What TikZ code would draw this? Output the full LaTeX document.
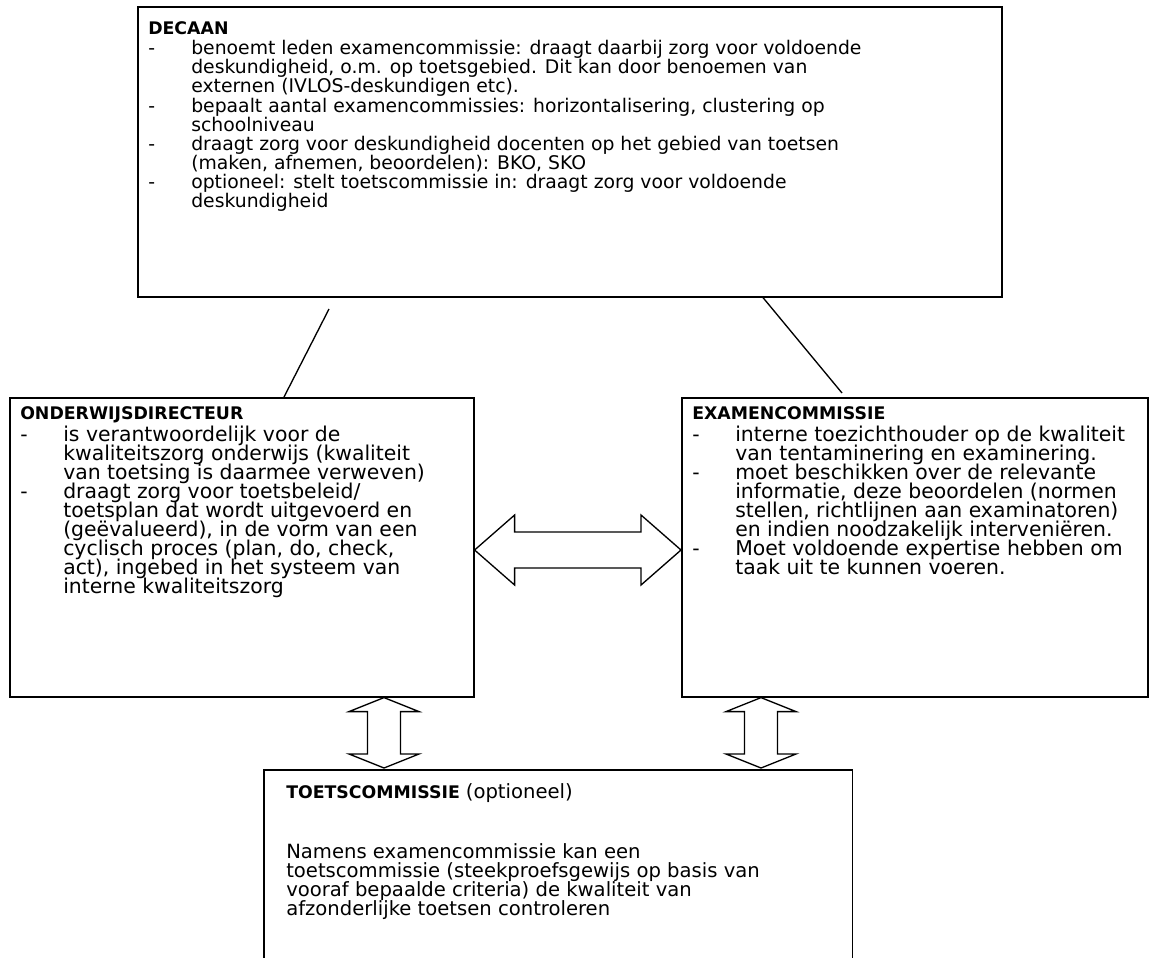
\documentclass[tikz,border=0pt]{standalone}
\usepackage{fontspec}
\setmainfont{DejaVu Sans}
\usetikzlibrary{calc}
\setlength\lineskiplimit{-20pt}

\newcommand\dash{\makebox[32.25pt][l]{-}}
\newcommand\ind{\hspace*{32.25pt}}
\newcommand\topline{\rule{0pt}{10pt}}

\tikzset{
  box/.style={draw, line width=1.2pt, inner sep=0pt, anchor=north west},
  title/.style={inner sep=0pt, anchor=base west, font=\fontsize{13}{14.3}\selectfont\bfseries},
  body/.style={align=left, inner sep=0pt, anchor=north west,
    font=\fontsize{#1}{14.3}\selectfont},
  blockarrow/.style={draw, line width=1pt, line join=miter},
  link/.style={line width=1pt}
}

\begin{document}
\begin{tikzpicture}[x=0.75pt,y=-0.75pt]
\useasboundingbox (0,0) rectangle (1155,957);

\node[box, minimum width=648pt, minimum height=217.5pt] (decaan) at (137,6) {};
\node[box, minimum width=348pt, minimum height=224.25pt] (dir) at (9,397) {};
\node[box, minimum width=349.5pt, minimum height=224.25pt] (exam) at (681,397) {};
\node[box, draw=none, minimum width=440.25pt, minimum height=150pt] (toets) at (264,770) {};
\draw[line width=1.2pt] (toets.south west) -- (toets.north west) -- (toets.north east) -- (toets.south east);

\node[title] (decaantitle) at (148,34.6) {DECAAN};
\node[body=14.1] (decaantxt) at (148,40.3) {\topline\dash benoemt leden examencommissie: draagt daarbij zorg voor voldoende\\
\ind deskundigheid, o.m. op toetsgebied. Dit kan door benoemen van\\
\ind externen (IVLOS-deskundigen etc).\\
\dash bepaalt aantal examencommissies: horizontalisering, clustering op\\
\ind schoolniveau\\
\dash draagt zorg voor deskundigheid docenten op het gebied van toetsen\\
\ind (maken, afnemen, beoordelen): BKO, SKO\\
\dash optioneel: stelt toetscommissie in: draagt zorg voor voldoende\\
\ind deskundigheid};

\node[title] (dirtitle) at (20,419.6) {ONDERWIJSDIRECTEUR};
\node[body=15.3] (dirtxt) at (20,425.3) {\topline\dash is verantwoordelijk voor de\\
\ind kwaliteitszorg onderwijs (kwaliteit\\
\ind van toetsing is daarmee verweven)\\
\dash draagt zorg voor toetsbeleid/\\
\ind toetsplan dat wordt uitgevoerd en\\
\ind (geëvalueerd), in de vorm van een\\
\ind cyclisch proces (plan, do, check,\\
\ind act), ingebed in het systeem van\\
\ind interne kwaliteitszorg};

\node[title] (examtitle) at (692,419.6) {EXAMENCOMMISSIE};
\node[body=15.3] (examtxt) at (692,425.3) {\topline\dash interne toezichthouder op de kwaliteit\\
\ind van tentaminering en examinering.\\
\dash moet beschikken over de relevante\\
\ind informatie, deze beoordelen (normen\\
\ind stellen, richtlijnen aan examinatoren)\\
\ind en indien noodzakelijk interveniëren.\\
\dash Moet voldoende expertise hebben om\\
\ind taak uit te kunnen voeren.};

\node[title] (toetstitle) at (286,798.6) {TOETSCOMMISSIE {\mdseries\fontsize{14.7}{14.3}\selectfont(optioneel)}};
\node[body=14.7] (toetstxt) at (286,843.3) {\topline Namens examencommissie kan een\\
toetscommissie (steekproefsgewijs op basis van\\
vooraf bepaalde criteria) de kwaliteit van\\
afzonderlijke toetsen controleren};

% lijnen vanuit de decaan
\coordinate (l1) at (329,309);
\coordinate (r1) at (842,393);
\draw[link] (l1) -- (284,0 |- dir.north);
\draw[link] (763,0 |- decaan.south) -- (r1);

% dubbele blokpijlen
\coordinate (ha) at (dir.east |- 0,550);
\coordinate (hb) at (exam.west |- 0,550);
\draw[blockarrow] (ha) -- ++(40,-35) -- ++(0,17) -- ($(hb)+(-40,-18)$) -- ++(0,-17) -- (hb)
  -- ++(-40,35) -- ++(0,-17) -- ($(ha)+(40,18)$) -- ++(0,17) -- cycle;

\coordinate (va) at (384,0 |- dir.south);
\coordinate (vb) at (384,768);
\draw[blockarrow] (va) -- ++(35,14) -- ++(-18.5,0) -- ($(vb)+(16.5,-14)$) -- ++(18.5,0) -- (vb)
  -- ++(-35,-14) -- ++(18.5,0) -- ($(va)+(-16.5,14)$) -- ++(-18.5,0) -- cycle;

\coordinate (wa) at (761,0 |- exam.south);
\coordinate (wb) at (761,768);
\draw[blockarrow] (wa) -- ++(35,14) -- ++(-18.5,0) -- ($(wb)+(16.5,-14)$) -- ++(18.5,0) -- (wb)
  -- ++(-35,-14) -- ++(18.5,0) -- ($(wa)+(-16.5,14)$) -- ++(-18.5,0) -- cycle;
\end{tikzpicture}
\end{document}
